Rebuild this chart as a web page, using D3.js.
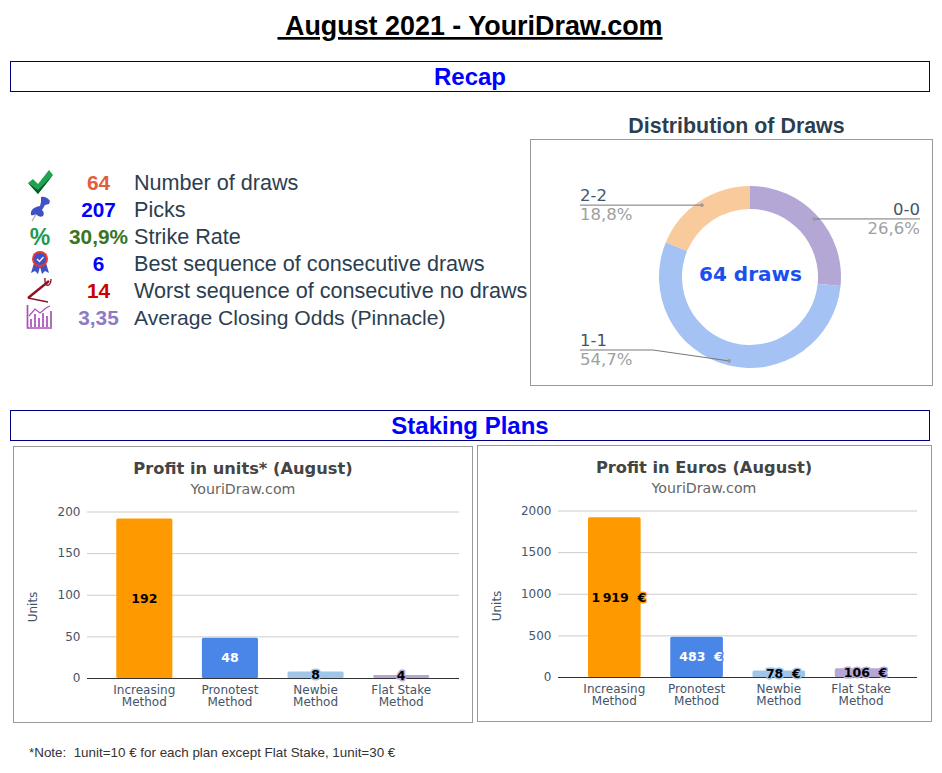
<!DOCTYPE html>
<html><head><meta charset="utf-8">
<script src="https://cdn.jsdelivr.net/npm/d3@7"></script>
<style>
html,body{margin:0;padding:0;background:#fff}
svg{display:block}
text{font-family:"DejaVu Sans",sans-serif}
.ar{font-family:"Liberation Sans",Arial,sans-serif}
</style></head><body>
<svg id="c" width="942" height="773"></svg>
<script>
const pageTitle = "\u00a0August 2021 - YouriDraw.com";
const statValues = ["64","207","30,9%","6","14","3,35"];
const statLabels = ["Number of draws","Picks","Strike Rate","Best sequence of consecutive draws","Worst sequence of consecutive no draws","Average Closing Odds (Pinnacle)"];
const statColors = ["#dd5f3f","#0000ff","#38761d","#0000ff","#cc0000","#8e7cc3"];
const drawCats = ["0-0","1-1","2-2"];
const drawShares = [26.6,54.7,18.8];
const drawPctLabels = ["26,6%","54,7%","18,8%"];
const drawColors = ["#b4a7d6","#a4c2f4","#f9cb9c"];
const methods = ["Increasing Method","Pronotest Method","Newbie Method","Flat Stake Method"];
const unitValues = [191.5,48.3,7.8,3.5];
const euroValues = [1919,483,78,106];
const unitTicks = [0,50,100,150,200];
const euroTicks = [0,500,1000,1500,2000];
const barColors = ["#ff9900","#4a86e8","#9fc5e8","#b4a7d6"];
const barLabelColors = ["#000","#fff","#000","#000"];

const svg = d3.select("#c");
const ink = "#2c3e50";

function hText(g,x,y,str,o){
  return g.append("text").attr("x",x).attr("y",y).text(str).attr("text-anchor",o.a||"start")
    .attr("font-size",o.s).attr("font-weight",o.w||"normal").attr("fill",o.f||"#000").attr("class",o.c||null);
}
// title
hText(svg,470,35,pageTitle,{a:"middle",s:26.9,w:"bold",c:"ar"}).attr("text-decoration","underline");
// section bars
[[61,"Recap",85],[410,"Staking Plans",434]].forEach(([y,t,by])=>{
  svg.append("rect").attr("x",10.5).attr("y",y+.5).attr("width",919).attr("height",30).attr("fill","none").attr("stroke","#000080");
  hText(svg,470,by,t,{a:"middle",s:24,w:"bold",f:"#0000ff",c:"ar"});
});
// stats
const rowY = d3.scalePoint().domain(d3.range(6)).range([183,318]);
statLabels.forEach((l,i)=>{
  hText(svg,134,rowY(i)+6.8,l,{s:i===5?21.1:21.6,f:ink,c:"ar"});
  hText(svg,98.5,rowY(i)+7,statValues[i],{a:"middle",s:20.8,w:"bold",f:statColors[i],c:"ar"});
});
// icons
const ic = svg.append("g");
// check
ic.append("path").attr("d","M28 183 L33 179 L38 184 L49 170 L53 175 L38 194 Z").attr("fill","#1fa551");
ic.append("path").attr("d","M28 183 L38 190 L53 175 L38 194 Z").attr("fill","#0c5a2b");
// pin
ic.append("path").attr("d","M32 221 L37 213").attr("stroke","#aaa").attr("stroke-width",1.2);
ic.append("path").attr("d","M41 197 Q46 196 50 201 L49 204 L45 205 L42 210 Q45 213 43 216 Q39 218 36 214 Q33 216 31 215 Q30 211 34 208 Q38 206 40 206 L41 202 Z").attr("fill","#3f51c4");
// percent
hText(ic,40,244.5,"%",{a:"middle",s:23,w:"bold",f:"#1d9a4b",c:"ar"});
// ribbon
ic.append("path").attr("d","M34 263 L31 273 L35 271 L38 274 L40 267 L42 274 L45 271 L49 273 L46 263 Z").attr("fill","#3f51c4");
ic.append("circle").attr("cx",40).attr("cy",259).attr("r",8).attr("fill","#e53935");
ic.append("circle").attr("cx",40).attr("cy",259).attr("r",6).attr("fill","#3f51c4");
ic.append("path").attr("d","M37 259 L39.5 261.5 L43.5 257").attr("fill","none").attr("stroke","#fff").attr("stroke-width",1.3);
// sword
ic.append("path").attr("d","M28 298 L49 281").attr("fill","none").attr("stroke","#8e1226").attr("stroke-width",2.4);
ic.append("path").attr("d","M28 298 L48 302").attr("fill","none").attr("stroke","#8e1226").attr("stroke-width",1.4);
ic.append("path").attr("d","M45 278 C44 288 51 287 51 279").attr("fill","none").attr("stroke","#8e1226").attr("stroke-width",1.4);
// chart icon
ic.append("path").attr("d","M27.5 305 V328 H52 M31 327 V319 M35 327 V314 M39 327 V318 M43 327 V313 M47 327 V316 M51 327 V311").attr("fill","none").attr("stroke","#a94fba").attr("stroke-width",1.7);
ic.append("path").attr("d","M29 316 L35 309 L40 313 L46 308 L50 306").attr("fill","none").attr("stroke","#a94fba").attr("stroke-width",1.2);

// donut
hText(svg,736.5,133,"Distribution of Draws",{a:"middle",s:21.4,w:"bold",f:ink,c:"ar"});
svg.append("rect").attr("x",530.5).attr("y",139.5).attr("width",402).attr("height",246).attr("fill","#fff").attr("stroke","#999");
const dg = svg.append("g").attr("transform","translate(750,277)");
const pie = d3.pie().sort(null).value(d=>d)(drawShares);
const arc = d3.arc().innerRadius(68).outerRadius(91);
const pct = d3.arc().innerRadius(86.5).outerRadius(86.5);
dg.selectAll("path").data(pie).join("path").attr("d",arc).attr("fill",(d,i)=>drawColors[i]);
hText(svg,750.5,281,"64 draws",{a:"middle",s:20,w:"bold",f:"#1a4ff0"});
const callEnds = [920,580,580];
const callElbowY = [null,350,null];
const callElbowX = [null,653,null];
pie.forEach((d,i)=>{
  const [cx,cy] = pct.centroid(d);
  const px = 750+cx, py = 277+cy;
  const ex = callEnds[i];
  const ly = callElbowY[i]===null ? py : callElbowY[i];
  const pts = callElbowX[i]===null ? [[ex,ly],[px,py]] : [[ex,ly],[callElbowX[i],ly],[px,py]];
  svg.append("path").attr("d",d3.line()(pts)).attr("fill","none").attr("stroke","#777").attr("stroke-width",1);
  svg.append("circle").attr("cx",px).attr("cy",py).attr("r",1.8).attr("fill","#999");
  const anchor = ex>750?"end":"start";
  hText(svg,ex,ly-4,drawCats[i],{a:anchor,s:16.5,f:"#44546a"});
  hText(svg,ex,ly+15,drawPctLabels[i],{a:anchor,s:16.5,f:"#a0a0a0"});
});

// bar charts
function barChart(cfg){
  svg.append("rect").attr("x",cfg.box[0]+.5).attr("y",cfg.box[1]+.5).attr("width",cfg.box[2]).attr("height",cfg.box[3]).attr("fill","#fff").attr("stroke","#999");
  hText(svg,cfg.tx,cfg.ty,cfg.title,{a:"middle",s:16.25,w:"bold",f:"#444"});
  hText(svg,cfg.tx,cfg.ty+20,"YouriDraw.com",{a:"middle",s:14.2,f:"#666"});
  const y = d3.scaleLinear().domain([0,cfg.ticks[4]]).range([cfg.y0,cfg.y1]);
  const x = d3.scaleBand().domain(methods).range(cfg.xr).paddingInner(cfg.pad).paddingOuter(cfg.pad/2);
  const ag = svg.append("g").attr("transform",`translate(${cfg.gx[0]},0)`)
    .call(d3.axisLeft(y).tickValues(cfg.ticks).tickSize(-(cfg.gx[1]-cfg.gx[0])).tickSizeOuter(0).tickPadding(6.5).tickFormat(d3.format("d")));
  ag.select(".domain").remove();
  ag.selectAll("line").attr("stroke","#ccc");
  ag.selectAll("text").attr("font-size",12).attr("fill","#44546a").attr("font-family","DejaVu Sans");
  svg.selectAll(null).data(cfg.values).join("rect").attr("x",(d,i)=>x(methods[i])).attr("width",x.bandwidth())
    .attr("y",d=>y(d)).attr("height",d=>cfg.y0-y(d)).attr("fill",(d,i)=>barColors[i]).attr("rx",1.5);
  svg.append("line").attr("x1",cfg.gx[0]).attr("x2",cfg.gx[1]).attr("y1",cfg.y0+.5).attr("y2",cfg.y0+.5).attr("stroke","#333");
  // category axis
  const xa = svg.append("g").attr("transform",`translate(0,${cfg.y0})`).call(d3.axisBottom(x).tickSize(0));
  xa.select(".domain").remove();
  xa.selectAll("text").text(null).attr("dy",null).attr("y",null).attr("font-size",12).attr("fill","#44546a").attr("font-family","DejaVu Sans").each(function(d){
    const parts = d.endsWith(" Method") ? [d.slice(0,-7),"Method"] : [d];
    const t = d3.select(this);
    parts.forEach((p,k)=>t.append("tspan").attr("x",0).attr("y",k===0?16:28).text(p));
  });
  // value labels with halo
  cfg.values.forEach((v,i)=>{
    const ly = Math.min((y(v)+cfg.y0)/2+4.5, cfg.y0+1.5);
    hText(svg,x(methods[i])+x.bandwidth()/2+cfg.lx,ly,cfg.fmt(v),{a:"middle",s:12.5,w:"bold",f:barLabelColors[i]})
      .attr("stroke",barColors[i]).attr("stroke-width",3).attr("paint-order","stroke").attr("stroke-linejoin","round");
  });
  hText(svg,0,0,"Units",{a:"middle",s:12,f:"#44546a"}).attr("transform",`translate(${cfg.ux},${cfg.uy}) rotate(-90)`);
}
const spaceK = n => d3.format(",.0f")(n).replace(",","\u2009");
barChart({box:[13,446,459,276],title:"Profit in units* (August)",tx:243,ty:474,ticks:unitTicks,values:unitValues,
  y0:678,y1:511.5,gx:[87,459],xr:[101.5,444],pad:.345,lx:0,ux:36.5,uy:607,fmt:d3.format(".0f")});
barChart({box:[477,445,454,276],title:"Profit in Euros (August)",tx:704,ty:473,ticks:euroTicks,values:euroValues,
  y0:677,y1:510.5,gx:[558,917],xr:[573.2,902.2],pad:.36,lx:4.5,ux:501,uy:606,fmt:v=>spaceK(v)+"\u00a0\u00a0€"});
// footnote
hText(svg,29,757,"*Note:\u00a0\u00a01unit=10 € for each plan except Flat Stake, 1unit=30 €",{s:13.4,f:"#333",c:"ar"});
</script>
</body></html>
